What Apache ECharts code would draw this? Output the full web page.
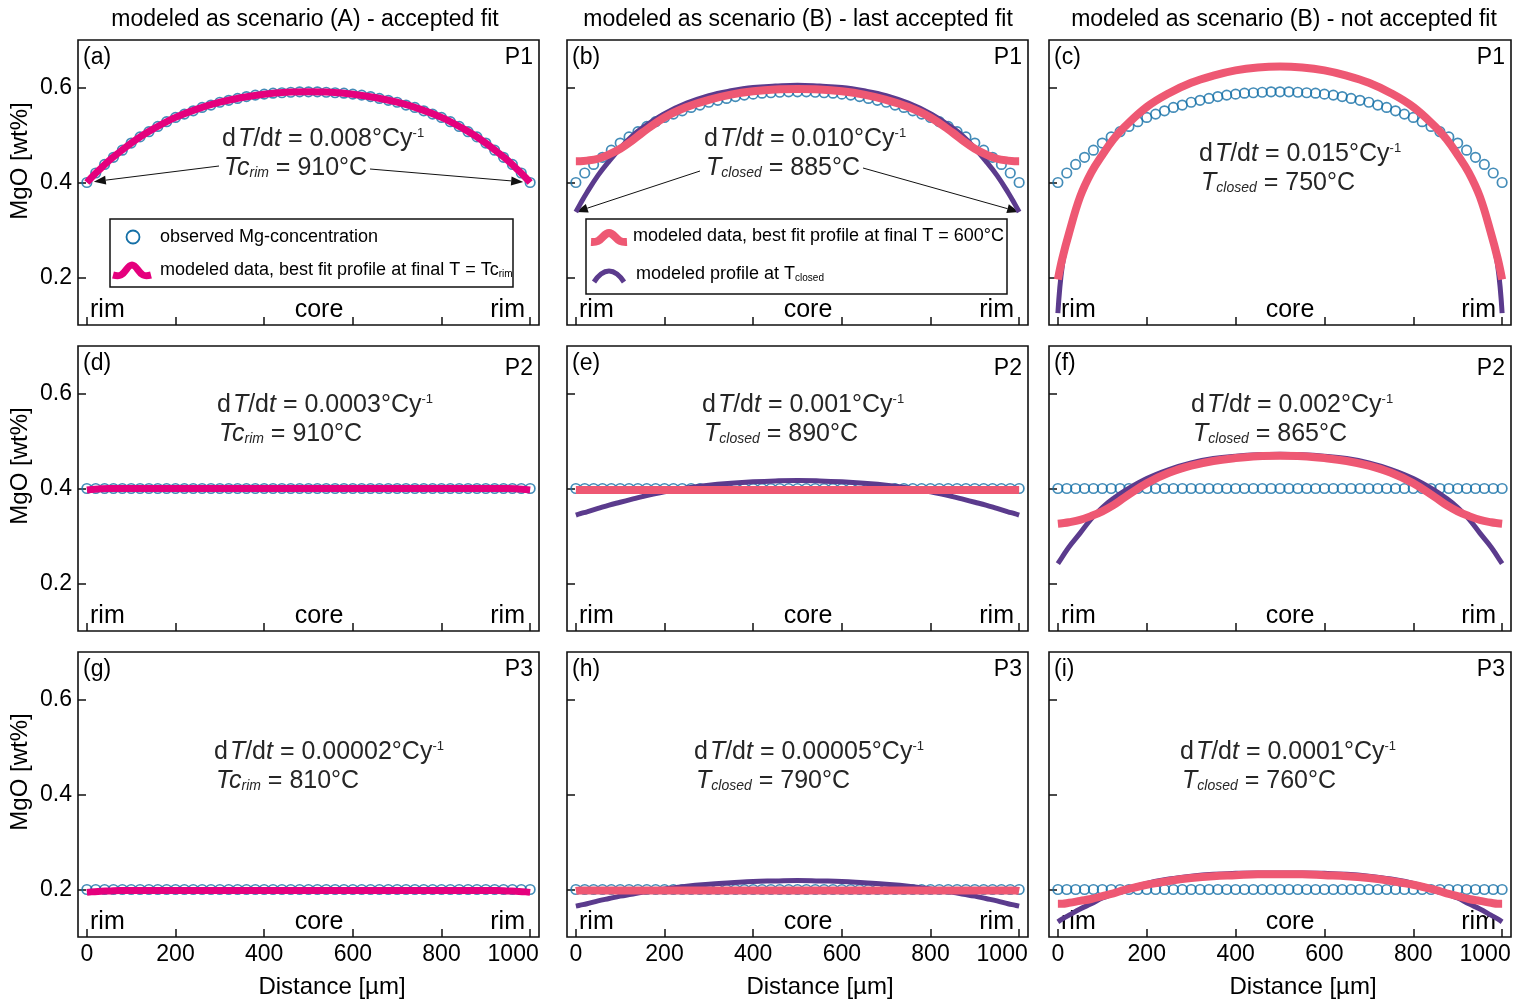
<!DOCTYPE html>
<html><head><meta charset="utf-8">
<script src="https://cdn.jsdelivr.net/npm/echarts@6/dist/echarts.min.js"></script>
<style>html,body{margin:0;padding:0;background:#fff}#c{width:1529px;height:1003px}</style>
</head><body><div id="c"></div>
<script>
// ---------------- DATA ----------------
const obsDist = [0,20,40,60,80,100,120,140,160,180,200,220,240,260,280,300,320,340,360,380,400,420,440,460,480,500,520,540,560,580,600,620,640,660,680,700,720,740,760,780,800,820,840,860,880,900,920,940,960,980,1000];
const obsP1 = [0.400,0.420,0.438,0.453,0.468,0.483,0.496,0.507,0.518,0.528,0.537,0.544,0.551,0.558,0.563,0.569,0.573,0.577,0.581,0.584,0.586,0.588,0.589,0.590,0.591,0.591,0.591,0.590,0.589,0.588,0.586,0.584,0.581,0.577,0.573,0.569,0.563,0.558,0.551,0.544,0.537,0.528,0.518,0.507,0.496,0.483,0.468,0.453,0.438,0.420,0.400];
const obsP2 = [0.4,0.4,0.4,0.4,0.4,0.4,0.4,0.4,0.4,0.4,0.4,0.4,0.4,0.4,0.4,0.4,0.4,0.4,0.4,0.4,0.4,0.4,0.4,0.4,0.4,0.4,0.4,0.4,0.4,0.4,0.4,0.4,0.4,0.4,0.4,0.4,0.4,0.4,0.4,0.4,0.4,0.4,0.4,0.4,0.4,0.4,0.4,0.4,0.4,0.4,0.4];
const obsP3 = [0.2,0.2,0.2,0.2,0.2,0.2,0.2,0.2,0.2,0.2,0.2,0.2,0.2,0.2,0.2,0.2,0.2,0.2,0.2,0.2,0.2,0.2,0.2,0.2,0.2,0.2,0.2,0.2,0.2,0.2,0.2,0.2,0.2,0.2,0.2,0.2,0.2,0.2,0.2,0.2,0.2,0.2,0.2,0.2,0.2,0.2,0.2,0.2,0.2,0.2,0.2];

const modDist = [0,10,25,50,75,100,125,150,200,250,300,350,400,450,500,550,600,650,700,750,800,850,875,900,925,950,975,990,1000];
const fitA    = [0.400,0.410,0.424,0.446,0.465,0.483,0.499,0.513,0.537,0.555,0.569,0.579,0.586,0.590,0.591,0.590,0.586,0.579,0.569,0.555,0.537,0.513,0.499,0.483,0.465,0.446,0.424,0.410,0.400];
const fitB    = [0.445,0.445,0.446,0.450,0.459,0.471,0.487,0.505,0.537,0.559,0.574,0.585,0.592,0.596,0.597,0.596,0.592,0.585,0.574,0.559,0.537,0.505,0.487,0.471,0.459,0.450,0.446,0.445,0.445];
const closedB = [0.338,0.355,0.379,0.415,0.445,0.472,0.496,0.515,0.545,0.567,0.583,0.593,0.600,0.603,0.605,0.603,0.600,0.593,0.583,0.567,0.545,0.515,0.496,0.472,0.445,0.415,0.379,0.355,0.338];
const fitC    = [0.196,0.240,0.293,0.370,0.421,0.458,0.491,0.517,0.559,0.588,0.610,0.625,0.636,0.642,0.644,0.642,0.636,0.625,0.610,0.588,0.559,0.517,0.491,0.458,0.421,0.370,0.293,0.240,0.196];
const closedC = [0.125,0.225,0.290,0.370,0.421,0.458,0.491,0.517,0.559,0.588,0.610,0.625,0.636,0.642,0.644,0.642,0.636,0.625,0.610,0.588,0.559,0.517,0.491,0.458,0.421,0.370,0.290,0.225,0.125];
const fitD    = [0.397,0.398,0.399,0.400,0.400,0.400,0.400,0.400,0.400,0.400,0.400,0.400,0.400,0.400,0.400,0.400,0.400,0.400,0.400,0.400,0.400,0.400,0.400,0.400,0.400,0.400,0.399,0.398,0.397];
const fitE    = [0.397,0.397,0.397,0.397,0.397,0.397,0.397,0.397,0.397,0.397,0.397,0.397,0.397,0.397,0.397,0.397,0.397,0.397,0.397,0.397,0.397,0.397,0.397,0.397,0.397,0.397,0.397,0.397,0.397];
const closedE = [0.344,0.347,0.351,0.358,0.365,0.371,0.377,0.383,0.393,0.401,0.407,0.411,0.414,0.416,0.417,0.416,0.414,0.411,0.407,0.401,0.393,0.383,0.377,0.371,0.365,0.358,0.351,0.347,0.344];
const fitF    = [0.326,0.327,0.329,0.334,0.342,0.352,0.365,0.381,0.411,0.433,0.448,0.458,0.464,0.468,0.469,0.468,0.464,0.458,0.448,0.433,0.411,0.381,0.365,0.352,0.342,0.334,0.329,0.327,0.326];
const closedF = [0.242,0.256,0.277,0.306,0.336,0.360,0.379,0.395,0.421,0.440,0.454,0.463,0.468,0.471,0.472,0.471,0.468,0.463,0.454,0.440,0.421,0.395,0.379,0.360,0.336,0.306,0.277,0.256,0.242];
const fitG    = [0.194,0.195,0.196,0.197,0.198,0.198,0.198,0.198,0.198,0.198,0.198,0.198,0.198,0.198,0.198,0.198,0.198,0.198,0.198,0.198,0.198,0.198,0.198,0.198,0.198,0.197,0.196,0.195,0.194];
const fitH    = [0.197,0.198,0.198,0.198,0.198,0.198,0.198,0.198,0.198,0.198,0.198,0.198,0.198,0.198,0.198,0.198,0.198,0.198,0.198,0.198,0.198,0.198,0.198,0.198,0.198,0.198,0.198,0.198,0.197];
const closedH = [0.165,0.167,0.170,0.176,0.181,0.186,0.190,0.194,0.201,0.207,0.211,0.214,0.217,0.218,0.219,0.218,0.217,0.214,0.211,0.207,0.201,0.194,0.190,0.186,0.181,0.176,0.170,0.167,0.165];
const fitI    = [0.170,0.170,0.172,0.176,0.180,0.186,0.192,0.199,0.210,0.218,0.224,0.228,0.230,0.232,0.232,0.232,0.230,0.228,0.224,0.218,0.210,0.199,0.192,0.186,0.180,0.176,0.172,0.170,0.170];
const closedI = [0.132,0.138,0.146,0.159,0.170,0.182,0.191,0.200,0.213,0.222,0.228,0.232,0.234,0.235,0.235,0.235,0.234,0.232,0.228,0.222,0.213,0.200,0.191,0.182,0.170,0.159,0.146,0.138,0.132];

const xTicks = [0,200,400,600,800,1000];
const yTicks = [0.2,0.4,0.6];
const colTitles = ['modeled as scenario (A) - accepted fit','modeled as scenario (B) - last accepted fit','modeled as scenario (B) - not accepted fit'];
const panelLetters = ['(a)','(b)','(c)','(d)','(e)','(f)','(g)','(h)','(i)'];
const profileNames = ['P1','P2','P3'];
const rates = ['0.008','0.010','0.015','0.0003','0.001','0.002','0.00002','0.00005','0.0001'];
const temps = ['910','885','750','910','890','865','810','790','760'];
const yName = 'MgO [wt%]';
const xName = 'Distance [µm]';

// ---------------- LAYOUT / STYLE ----------------
const FONT = '"Liberation Sans", Arial, Helvetica, sans-serif';
const COL_LEFT = [78, 567, 1049], COL_W = [461, 461, 462];
const ROW_TOP = [40, 346, 652], ROW_H = 285;
const C_OBS = '#146fa6', C_MAG = '#e5007d', C_PINK = '#ee5873', C_PURP = '#5b3b8d', TXT = '#262626';
const ANN_POS = [[222,139],[704,139],[1199,154],[217,405],[702,405],[1191,405],[214,752],[694,752],[1180,752]];
const ANN_SIZE = 25;

const panelData = [
  [obsP1, fitA, null], [obsP1, fitB, closedB], [obsP1, fitC, closedC],
  [obsP2, fitD, null], [obsP2, fitE, closedE], [obsP2, fitF, closedF],
  [obsP3, fitG, null], [obsP3, fitH, closedH], [obsP3, fitI, closedI]
];

const chart = echarts.init(document.getElementById('c'), null, {renderer: 'canvas'});
const grids = [], xAxes = [], yAxes = [], series = [];
for (let p = 0; p < 9; p++) {
  const r = Math.floor(p / 3), c = p % 3;
  grids.push({left: COL_LEFT[c], top: ROW_TOP[r], width: COL_W[c], height: ROW_H, show: true,
    borderColor: '#111', borderWidth: 1.6, backgroundColor: 'transparent'});
  xAxes.push({gridIndex: p, type: 'value', min: -20, max: 1020, position: 'bottom',
    axisLine: {show: false, onZero: false}, splitLine: {show: false},
    axisTick: {show: true, inside: true, length: 8, customValues: xTicks, lineStyle: {color: '#111', width: 1.5}},
    axisLabel: {show: r === 2, customValues: xTicks, fontFamily: FONT, fontSize: 23, color: '#000', margin: 6,
      formatter: v => v === 1000 ? '{s|1000}' : String(v),
      rich: {s: {fontFamily: FONT, fontSize: 23, color: '#000', padding: [0, 34, 0, 0]}}}
  });
  yAxes.push({gridIndex: p, type: 'value', min: 0.1, max: 0.7, position: 'left',
    axisLine: {show: false, onZero: false}, splitLine: {show: false},
    axisTick: {show: true, inside: true, length: 8, customValues: yTicks, lineStyle: {color: '#111', width: 1.5}},
    axisLabel: {show: c === 0, customValues: yTicks, fontFamily: FONT, fontSize: 23, color: '#000', margin: 6,
      formatter: v => v.toFixed(1)}
  });
  const [obs, fit, closed] = panelData[p];
  series.push({type: 'scatter', xAxisIndex: p, yAxisIndex: p, symbol: 'circle', symbolSize: 9.5,
    itemStyle: {color: 'rgba(255,255,255,0)', borderColor: C_OBS, borderWidth: 1.7},
    data: obsDist.map((d, i) => [d, obs[i]]), silent: true});
  if (closed) {
    series.push({type: 'line', xAxisIndex: p, yAxisIndex: p, showSymbol: false, smooth: 0.4,
      lineStyle: {color: C_PURP, width: 5}, data: modDist.map((d, i) => [d, closed[i]])});
  }
  series.push({type: 'line', xAxisIndex: p, yAxisIndex: p, showSymbol: false, smooth: 0.4,
    lineStyle: {color: c === 0 ? C_MAG : C_PINK, width: c === 0 ? 7 : 8},
    data: modDist.map((d, i) => [d, fit[i]])});
}

chart.setOption({animation: false, backgroundColor: '#fff', grid: grids, xAxis: xAxes, yAxis: yAxes, series: series});

// ---------------- ANNOTATIONS ----------------
function txt(x, y, text, size, opts) {
  opts = opts || {};
  return {type: 'text', x: x, y: y, rotation: opts.rotation || 0, z: 1,
    style: Object.assign({text: text, fontFamily: FONT, fontSize: size, fill: opts.fill || '#000',
      align: opts.align || 'left', verticalAlign: 'middle',
      textAlign: opts.align || 'left', textVerticalAlign: 'middle'}, opts.style || {})};
}
const annRich = {
  iT: {fontFamily: FONT, fontSize: ANN_SIZE, fontStyle: 'italic', fill: TXT, color: TXT, padding: [0, 0, 0, 2]},
  i: {fontFamily: FONT, fontSize: ANN_SIZE, fontStyle: 'italic', fill: TXT, color: TXT},
  sup: {fontFamily: FONT, fontSize: 13, fill: TXT, color: TXT, verticalAlign: 'top'},
  sub: {fontFamily: FONT, fontSize: 14, fontStyle: 'italic', fill: TXT, color: TXT, verticalAlign: 'bottom'}
};
const legRich = {
  sub: {fontFamily: FONT, fontSize: 10, fill: '#000', color: '#000', verticalAlign: 'bottom'}
};

const g = [];
const titleX = [305, 798, 1284], xNameX = [332, 820, 1303];
for (let c = 0; c < 3; c++) {
  g.push(txt(titleX[c], 20, colTitles[c], 23, {align: 'center'}));
  g.push(txt(xNameX[c], 987, xName, 24, {align: 'center'}));
}
const yNameY = [161, 466, 772];
for (let r = 0; r < 3; r++) g.push(txt(20, yNameY[r], yName, 24, {align: 'center', rotation: Math.PI / 2}));

for (let p = 0; p < 9; p++) {
  const r = Math.floor(p / 3), c = p % 3;
  const L = COL_LEFT[c], W = COL_W[c], T = ROW_TOP[r];
  g.push(txt(L + 5, T + 18, panelLetters[p], 23));
  g.push(txt(L + W - 6, T + 18 + (r === 1 ? 5 : 0), profileNames[r], 23, {align: 'right'}));
  g.push(txt(L + 12, T + 270, 'rim', 25));
  g.push(txt(L + 241, T + 270, 'core', 25, {align: 'center'}));
  g.push(txt(L + 447, T + 270, 'rim', 25, {align: 'right'}));
  const [ax, ay] = ANN_POS[p];
  g.push(txt(ax, ay, 'd{iT|T}/d{i|t} = ' + rates[p] + '°Cy{sup|-1}', ANN_SIZE, {fill: TXT, style: {rich: annRich}}));
  const line2 = c === 0 ? '{i|Tc}{sub|rim} = ' + temps[p] + '°C' : '{i|T}{sub|closed} = ' + temps[p] + '°C';
  g.push(txt(ax + 2, ay + 29, line2, ANN_SIZE, {fill: TXT, style: {rich: annRich}}));
}

// legend (a)
g.push({type: 'rect', shape: {x: 110, y: 219, width: 403, height: 68}, style: {fill: null, stroke: '#111', lineWidth: 1.5}});
g.push({type: 'circle', shape: {cx: 133, cy: 237, r: 6.5}, style: {fill: null, stroke: C_OBS, lineWidth: 1.8}});
g.push(txt(160, 237, 'observed Mg-concentration', 18));
g.push({type: 'polyline', shape: {points: [[113,275],[121,275],[132,265],[143,275],[151,275]], smooth: 0.4}, style: {fill: null, stroke: C_MAG, lineWidth: 7}});
g.push(txt(160, 270, 'modeled data, best fit profile at final T = Tc{sub|rim}', 18, {style: {rich: legRich}}));
// legend (b)
g.push({type: 'rect', shape: {x: 586, y: 219, width: 421, height: 75}, style: {fill: null, stroke: '#111', lineWidth: 1.5}});
g.push({type: 'polyline', shape: {points: [[591,242],[598,241],[609,233],[620,241],[627,242]], smooth: 0.4}, style: {fill: null, stroke: C_PINK, lineWidth: 8}});
g.push(txt(633, 236, 'modeled data, best fit profile at final T = 600°C', 18));
g.push({type: 'polyline', shape: {points: [[594,282],[601,274],[609,271],[617,274],[624,282]], smooth: 0.4}, style: {fill: null, stroke: C_PURP, lineWidth: 5}});
g.push(txt(636, 274, 'modeled profile at T{sub|closed}', 18, {style: {rich: legRich}}));

// arrows
function arrow(x1, y1, x2, y2, shorten) {
  const a = Math.atan2(y2 - y1, x2 - x1);
  const tx = x2 - shorten * Math.cos(a), ty = y2 - shorten * Math.sin(a);
  const Lh = 12, Wh = 4.5;
  const bx = tx - Lh * Math.cos(a), by = ty - Lh * Math.sin(a);
  const px = -Math.sin(a) * Wh, py = Math.cos(a) * Wh;
  return [
    {type: 'line', shape: {x1: x1, y1: y1, x2: bx, y2: by}, style: {stroke: '#111', lineWidth: 1}},
    {type: 'polygon', shape: {points: [[tx, ty], [bx + px, by + py], [bx - px, by - py]]}, style: {fill: '#111'}}
  ];
}
const aL = chart.convertToPixel({gridIndex: 0}, [obsDist[0], obsP1[0]]);
const aR = chart.convertToPixel({gridIndex: 0}, [obsDist[50], obsP1[50]]);
const bL = chart.convertToPixel({gridIndex: 1}, [modDist[0], closedB[0]]);
const bR = chart.convertToPixel({gridIndex: 1}, [modDist[28], closedB[28]]);
g.push(...arrow(219, 166, aL[0], aL[1], 7));
g.push(...arrow(370, 169, aR[0], aR[1], 7));
g.push(...arrow(700, 171, bL[0], bL[1], 0));
g.push(...arrow(863, 168, bR[0], bR[1], 0));

chart.setOption({graphic: {elements: g}});
</script></body></html>
